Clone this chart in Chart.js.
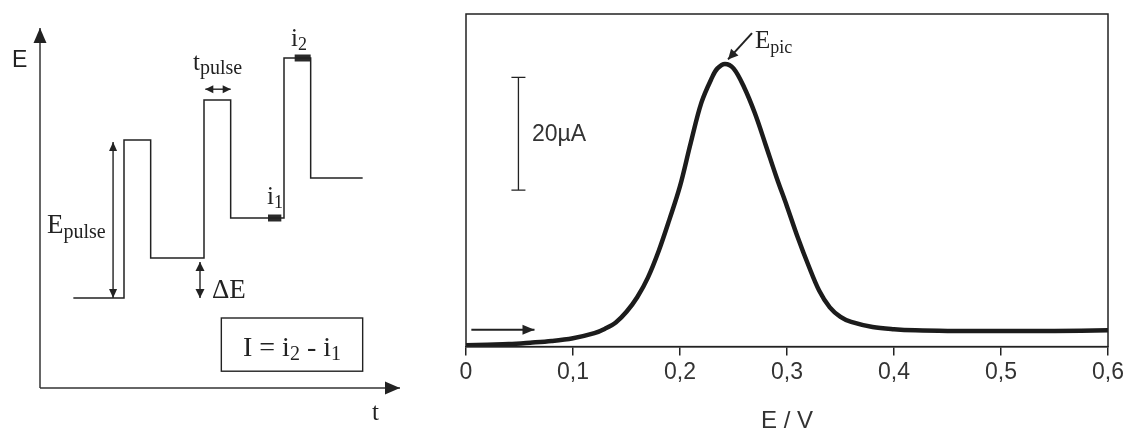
<!DOCTYPE html>
<html>
<head>
<meta charset="utf-8">
<script src="https://cdn.jsdelivr.net/npm/chart.js@4.4.1/dist/chart.umd.min.js"></script>
<style>
  html, body { margin: 0; padding: 0; background: #fff; }
  #wrap { position: relative; width: 1127px; height: 436px; }
  #pulseChart { position: absolute; left: 0; top: 0; }
  #peakChart { position: absolute; left: 430px; top: 0; }
</style>
</head>
<body>
<div id="wrap">
  <canvas id="pulseChart" width="430" height="436"></canvas>
  <canvas id="peakChart" width="697" height="436"></canvas>
</div>
<script>
// left panel: pulse waveform (t in steps, E in multiples of dE)
const waveT = [1.25, 3.15, 3.15, 4.15, 4.15, 6.15, 6.15, 7.15, 7.15, 9.15, 9.15, 10.15, 10.15, 12.1];
const waveE = [2.25, 2.25, 6.2, 6.2, 3.25, 3.25, 7.2, 7.2, 4.25, 4.25, 8.25, 8.25, 5.25, 5.25];
const i1T = [8.55, 9.05];
const i1E = [4.25, 4.25];
const i2T = [9.55, 10.15];
const i2E = [8.25, 8.25];

// right panel: differential pulse voltammogram
const potential = [0, 0.02, 0.04, 0.06, 0.08, 0.10, 0.12, 0.13, 0.14, 0.15, 0.16, 0.17, 0.18, 0.19, 0.20,
  0.21, 0.22, 0.23, 0.235, 0.242, 0.25, 0.26, 0.27, 0.28, 0.29, 0.30, 0.31, 0.32, 0.33, 0.34, 0.35, 0.36,
  0.38, 0.40, 0.42, 0.45, 0.50, 0.55, 0.60];
const current = [0.25, 0.35, 0.45, 0.7, 1.0, 1.5, 2.4, 3.2, 4.3, 6.2, 8.8, 12.3, 17.0, 22.6, 28.6,
  36.3, 43.5, 48.0, 49.6, 50.4, 49.6, 46.2, 41.6, 36.0, 30.3, 25.0, 19.5, 14.5, 10.0, 7.0, 5.3, 4.4,
  3.5, 3.1, 2.9, 2.8, 2.8, 2.8, 2.9];
const potentialTicks = [0, 0.1, 0.2, 0.3, 0.4, 0.5, 0.6];

const ink = '#222';
const sans = 'Liberation Sans, Arial, sans-serif';
const serif = 'Liberation Serif, Times New Roman, serif';

function arrowHead(ctx, x, y, ang, len, half) {
    ctx.save();
    ctx.translate(x, y);
    ctx.rotate(ang);
    ctx.beginPath();
    ctx.moveTo(0, 0);
    ctx.lineTo(-len, -half);
    ctx.lineTo(-len, half);
    ctx.closePath();
    ctx.fill();
    ctx.restore();
}

function arrowLine(ctx, x1, y1, x2, y2, len, half, both) {
    const ang = Math.atan2(y2 - y1, x2 - x1);
    ctx.beginPath();
    ctx.moveTo(x1, y1);
    ctx.lineTo(x2, y2);
    ctx.stroke();
    arrowHead(ctx, x2, y2, ang, len, half);
    if (both) arrowHead(ctx, x1, y1, ang + Math.PI, len, half);
}

function subText(ctx, main, sub, x, y, size, subSize, drop, family) {
    ctx.font = size + 'px ' + family;
    ctx.fillText(main, x, y);
    const w = ctx.measureText(main).width;
    ctx.font = subSize + 'px ' + family;
    ctx.fillText(sub, x + w, y + drop);
    return x + w + ctx.measureText(sub).width;
}

const pulseDecor = {
    id: 'pulseDecor',
    afterDatasetsDraw(chart) {
        const ctx = chart.ctx;
        const a = chart.chartArea;
        const xs = chart.scales.x;
        const ys = chart.scales.y;
        const px = v => xs.getPixelForValue(v);
        const py = v => ys.getPixelForValue(v);
        ctx.save();
        ctx.fillStyle = ink;
        ctx.strokeStyle = '#333';
        ctx.lineWidth = 1.5;

        // axes with arrows
        arrowLine(ctx, a.left, a.bottom, a.left, a.top, 15, 6.5, false);
        arrowLine(ctx, a.left, a.bottom, a.right, a.bottom, 15, 6.5, false);

        ctx.strokeStyle = ink;
        ctx.lineWidth = 1.4;
        // E_pulse, dE and t_pulse arrows
        arrowLine(ctx, px(2.74), py(2.25), px(2.74), py(6.15), 9, 4, true);
        arrowLine(ctx, px(6.0), py(2.25), px(6.0), py(3.15), 9, 4.5, true);
        arrowLine(ctx, px(6.2), py(7.47), px(7.15), py(7.47), 8, 4, true);

        // formula box
        const bx = px(6.8), by = py(1.75);
        ctx.strokeRect(bx, by, px(12.1) - bx, py(0.42) - by);

        ctx.textBaseline = 'alphabetic';
        ctx.textAlign = 'left';
        ctx.font = '23px ' + sans;
        ctx.fillText('E', px(-1.05), py(8.02));
        ctx.font = '25px ' + serif;
        ctx.fillText('t', px(12.45), py(-0.8));

        subText(ctx, 'E', 'pulse', px(0.26), py(3.875), 27, 20, 5, serif);
        subText(ctx, 't', 'pulse', px(5.74), py(7.95), 25, 20, 4, serif);
        ctx.font = '27px ' + serif;
        ctx.fillText('\u0394E', px(6.45), py(2.25));
        subText(ctx, 'i', '1', px(8.51), py(4.6), 25, 18, 4, serif);
        subText(ctx, 'i', '2', px(9.41), py(8.55), 25, 18, 4, serif);

        // I = i2 - i1, centred in the box
        const parts = [['I = i', 28], ['2', 20], [' - i', 28], ['1', 20]];
        let total = 0;
        parts.forEach(p => { ctx.font = p[1] + 'px ' + serif; total += ctx.measureText(p[0]).width; });
        let x = (bx + px(12.1)) / 2 - total / 2;
        const base = py(0.8);
        parts.forEach(p => {
            ctx.font = p[1] + 'px ' + serif;
            ctx.fillText(p[0], x, p[1] < 28 ? base + 4 : base);
            x += ctx.measureText(p[0]).width;
        });
        ctx.restore();
    }
};

const peakDecor = {
    id: 'peakDecor',
    afterDatasetsDraw(chart) {
        const ctx = chart.ctx;
        const a = chart.chartArea;
        const xs = chart.scales.x;
        const ys = chart.scales.y;
        const px = v => xs.getPixelForValue(v);
        const py = v => ys.getPixelForValue(v);
        ctx.save();
        ctx.strokeStyle = ink;
        ctx.fillStyle = ink;
        ctx.lineWidth = 1.5;
        ctx.strokeRect(a.left, a.top, a.right - a.left, a.bottom - a.top);

        // 20 µA scale bar
        const sx = px(0.049);
        ctx.lineWidth = 1.3;
        ctx.beginPath();
        ctx.moveTo(sx, py(48)); ctx.lineTo(sx, py(27.9));
        ctx.moveTo(sx - 7, py(48)); ctx.lineTo(sx + 7, py(48));
        ctx.moveTo(sx - 7, py(27.9)); ctx.lineTo(sx + 7, py(27.9));
        ctx.stroke();
        ctx.font = '23px ' + sans;
        ctx.fillStyle = '#333';
        ctx.fillText('20\u00b5A', px(0.0617), py(36.6));

        // scan direction arrow
        ctx.fillStyle = ink;
        ctx.lineWidth = 1.8;
        arrowLine(ctx, px(0.005), py(3.0), px(0.064), py(3.0), 12, 5, false);

        // E_pic marker
        ctx.lineWidth = 2;
        arrowLine(ctx, px(0.2673), py(55.9), px(0.2449), py(51.2), 10, 5, false);
        subText(ctx, 'E', 'pic', px(0.270), py(53.3), 25, 18, 5, serif);
        ctx.restore();
    }
};

new Chart(document.getElementById('pulseChart').getContext('2d'), {
    type: 'line',
    data: {
        datasets: [
            {
                data: waveT.map((t, i) => ({ x: t, y: waveE[i] })),
                borderColor: ink,
                borderWidth: 1.5,
                pointRadius: 0,
                fill: false
            },
            {
                data: i1T.map((t, i) => ({ x: t, y: i1E[i] })),
                borderColor: '#2a2a2a',
                borderWidth: 7,
                borderCapStyle: 'butt',
                pointRadius: 0
            },
            {
                data: i2T.map((t, i) => ({ x: t, y: i2E[i] })),
                borderColor: '#2a2a2a',
                borderWidth: 7,
                borderCapStyle: 'butt',
                pointRadius: 0
            }
        ]
    },
    options: {
        responsive: false,
        animation: false,
        layout: { padding: { left: 40, right: 30, top: 28, bottom: 48 } },
        plugins: { legend: { display: false }, tooltip: { enabled: false } },
        scales: {
            x: { type: 'linear', min: 0, max: 13.5, display: false },
            y: { type: 'linear', min: 0, max: 9, display: false }
        }
    },
    plugins: [pulseDecor]
});

new Chart(document.getElementById('peakChart').getContext('2d'), {
    type: 'line',
    data: {
        datasets: [
            {
                data: potential.map((e, i) => ({ x: e, y: current[i] })),
                borderColor: '#1c1c1c',
                borderWidth: 4.5,
                pointRadius: 0,
                tension: 0.35,
                fill: false
            }
        ]
    },
    options: {
        responsive: false,
        animation: false,
        layout: { padding: { left: 36, right: 19, top: 14, bottom: 0 } },
        plugins: { legend: { display: false }, tooltip: { enabled: false } },
        scales: {
            x: {
                type: 'linear',
                min: 0,
                max: 0.6,
                afterBuildTicks: s => { s.ticks = potentialTicks.map(v => ({ value: v })); },
                ticks: {
                    color: '#333',
                    padding: 3,
                    maxRotation: 0,
                    font: { family: sans, size: 23 },
                    callback: v => v === 0 ? '0' : v.toFixed(1).replace('.', ',')
                },
                grid: { drawOnChartArea: false, drawTicks: true, tickLength: 9, color: ink, lineWidth: 1.5 },
                border: { display: true, color: ink, width: 1.5 },
                title: {
                    display: true,
                    text: 'E / V',
                    color: '#333',
                    font: { family: sans, size: 24 },
                    padding: { top: 18, bottom: 0 }
                }
            },
            y: { type: 'linear', min: 0, max: 59.3, display: false }
        }
    },
    plugins: [peakDecor]
});
</script>
</body>
</html>
